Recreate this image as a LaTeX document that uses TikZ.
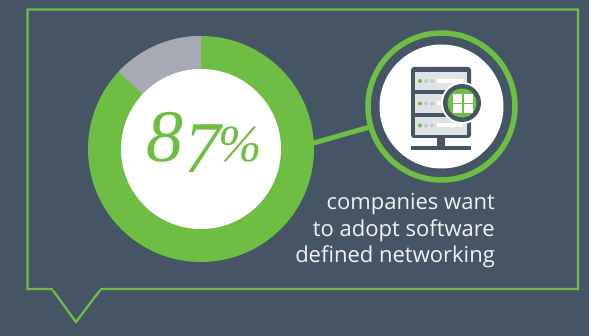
\documentclass[tikz,border=0pt]{standalone}
\usepackage{fontspec}
\setmainfont{Open Sans}
\newfontfamily\numfont{Liberation Serif}
\definecolor{bgc}{HTML}{465566}
\definecolor{grn}{HTML}{6EBE44}
\definecolor{gry}{HTML}{A7A9B4}
\definecolor{pnl}{HTML}{DFE3E5}
\definecolor{dotg}{HTML}{C4C8CB}
\tikzset{
  frameline/.style={draw=grn,line width=2.2pt,line join=miter},
  disc/.style={circle,inner sep=0pt,minimum size=#1,draw=none},
  panel/.style={fill=pnl,draw=none},
  caption/.style={anchor=base east,inner sep=0pt,text=white!92!bgc,font=\fontsize{22}{26}\selectfont},
}
\begin{document}
\begin{tikzpicture}[x=1pt,y=-1pt]
\useasboundingbox (0,0) rectangle (589,336);
\fill[bgc] (0,0) rectangle (589,336);
% speech frame
\draw[frameline] (52,289) -- (27.5,289) -- (27.5,9.5) -- (578,9.5) -- (578,289) -- (101,289) -- (76,322) -- cycle;
\fill[bgc] (53,290.5) -- (100,290.5) -- (100,287.5) -- (53,287.5) -- cycle;
% donut
\node[disc=226pt,fill=grn] (donut) at (201,149) {};
\fill[gry] (201,149) -- (201,36) arc[start angle=-90,end angle=-136.8,radius=113] -- cycle;
\node[disc=160pt,fill=white] (hole) at (201,149) {};
\node[anchor=base west,inner sep=0pt,text=grn,font=\numfont\itshape\fontsize{74}{74}\selectfont] (pct) at (146,162) {8\kern1pt\raisebox{-11pt}{\fontsize{73}{73}\selectfont 7}\kern-2.5pt{\fontsize{52}{52}\selectfont\%}};
% badge
\node[disc=147pt,draw=grn,line width=5.5pt] (ring) at (441.5,106.5) {};
\node[disc=124pt,fill=white] (face) at (441.5,106.5) {};
\coordinate (stub) at (312,143.5);
\draw[grn,line width=5pt] (stub) -- (ring);
% server icon
\fill[bgc,rounded corners=3pt] (411,67) rectangle (471,138);
\fill[bgc] (437,138) rectangle (445,147);
\fill[bgc] (411,146) rectangle (471,150);
\foreach \ya/\yb/\yd in {72/90/81,94/113/103.5,117/135/125.5}{
  \fill[panel] (415,\ya) rectangle (467,\yb);
  \fill[grn] (420,\yd) circle[radius=2];
  \fill[dotg] (426,\yd) circle[radius=2];
  \fill[dotg] (432,\yd) circle[radius=2];
  \fill[white] (437,\yd-2) rectangle (463,\yd+2);
}
\node[disc=42pt,fill=white] (halo) at (462,103) {};
\node[disc=38pt,fill=bgc] (rim) at (462,103) {};
\node[disc=29pt,fill=grn] (hub) at (462,103) {};
\fill[white] (453.3,94.3) rectangle (462.3,102.7);
\fill[white] (463.7,94.3) rectangle (472.7,102.7);
\fill[white] (453.3,104) rectangle (462.3,112.7);
\fill[white] (463.7,104) rectangle (472.7,112.7);
% caption
\node[caption] (l1) at (495,210) {companies want};
\node[caption] (l2) at (495,236.5) {to adopt software};
\node[caption] (l3) at (495,263) {defined networking};
\end{tikzpicture}
\end{document}
